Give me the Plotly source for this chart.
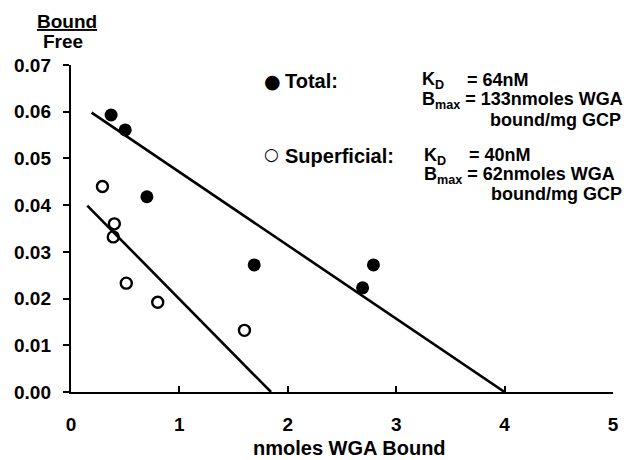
import plotly.graph_objects as go

# Data (Scatchard plot)
total_x = [0.37, 0.50, 0.70, 1.69, 2.69, 2.79]
total_y = [0.0593, 0.0561, 0.0418, 0.0272, 0.0223, 0.0272]
superficial_x = [0.29, 0.40, 0.39, 0.51, 0.80, 1.60]
superficial_y = [0.0440, 0.0360, 0.0332, 0.0233, 0.0192, 0.0132]
fit_total_x = [0.19, 4.0]
fit_total_y = [0.0598, 0.0]
fit_sup_x = [0.15, 1.845]
fit_sup_y = [0.0399, 0.0]
x_ticks = [0, 1, 2, 3, 4, 5]
y_ticks = [0.00, 0.01, 0.02, 0.03, 0.04, 0.05, 0.06, 0.07]
y_tick_labels = ["0.00", "0.01", "0.02", "0.03", "0.04", "0.05", "0.06", "0.07"]

W, H = 631, 460
L, R, T, B = 71, 16, 65, 68
FONT = "Liberation Sans, Arial, Helvetica, sans-serif"
SYM = "DejaVu Sans, sans-serif"

def px(x):
    return (x - L) / (W - L - R)

def py(y):
    return (H - B - y) / (H - T - B)

fig = go.Figure()
fig.add_trace(go.Scatter(x=fit_total_x, y=fit_total_y, mode="lines",
                         line=dict(color="black", width=2.6), showlegend=False))
fig.add_trace(go.Scatter(x=fit_sup_x, y=fit_sup_y, mode="lines",
                         line=dict(color="black", width=2.6), showlegend=False))
fig.add_trace(go.Scatter(x=total_x, y=total_y, mode="markers",
                         marker=dict(symbol="circle", size=13, color="black"),
                         showlegend=False))
fig.add_trace(go.Scatter(x=superficial_x, y=superficial_y, mode="markers",
                         marker=dict(symbol="circle-open", size=11, color="black",
                                     line=dict(width=2.4, color="black")),
                         showlegend=False))

ann = []
def text(x, y, s, size=19, xanchor="left", family=FONT):
    ann.append(dict(x=px(x), y=py(y), xref="paper", yref="paper", text=s,
                    showarrow=False, xanchor=xanchor, yanchor="middle",
                    font=dict(family=family, size=size, color="black")))

text(273, 81, "●", size=19, xanchor="center", family=SYM)
text(284, 81, "<b>Total:</b>", size=20)
text(272, 154, "<b>○</b>", size=17, xanchor="center", family=SYM)
text(284, 156, "<b>Superficial:</b>", size=20)

LS = 18
text(421, 81, "<b>K<sub>D</sub></b>", size=LS)
text(466, 80, "<b>= 64nM</b>", size=LS)
text(421, 100, "<b>B<sub>max</sub> = 133nmoles WGA</b>", size=LS)
text(490, 120, "<b>bound/mg GCP</b>", size=LS)

text(423, 156, "<b>K<sub>D</sub></b>", size=LS)
text(468, 155, "<b>= 40nM</b>", size=LS)
text(423, 175, "<b>B<sub>max</sub> = 62nmoles WGA</b>", size=LS)
text(491, 194, "<b>bound/mg GCP</b>", size=LS)

text(351, 448, "<b>nmoles WGA Bound</b>", size=20, xanchor="center")
text(67, 22, "<b><span style='text-decoration:underline'>Bound</span></b>", size=19, xanchor="center")
text(63, 41, "<b>Free</b>", size=19, xanchor="center")

fig.update_layout(
    width=W, height=H,
    margin=dict(l=L, r=R, t=T, b=B, pad=0),
    paper_bgcolor="white", plot_bgcolor="white",
    annotations=ann,
    xaxis=dict(range=[0, 5], tickvals=x_ticks, ticktext=["<b>%d</b>" % v for v in x_ticks],
               showgrid=False, zeroline=False, showline=True, linecolor="black",
               linewidth=2.4, ticks="inside", ticklen=6, tickwidth=2.2,
               tickcolor="black", ticklabelstandoff=14,
               tickfont=dict(family=FONT, size=19, color="black")),
    yaxis=dict(range=[0, 0.07], tickvals=y_ticks, ticktext=["<b>%s</b>" % t for t in y_tick_labels],
               showgrid=False, zeroline=False, showline=True, linecolor="black",
               linewidth=2.4, ticks="outside", ticklen=6, tickwidth=2.2,
               tickcolor="black", ticklabelstandoff=8,
               tickfont=dict(family=FONT, size=19, color="black")),
)

fig.write_html("out.html")
